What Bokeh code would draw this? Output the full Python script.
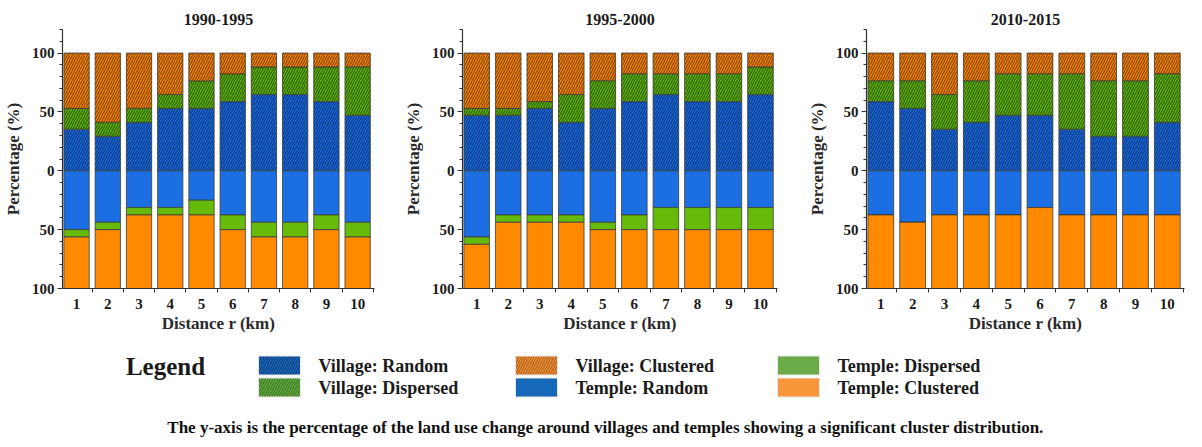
from bokeh.plotting import figure
from bokeh.layouts import column, row
from bokeh.models import ColumnDataSource, Range1d, FixedTicker, Title
from bokeh.embed import file_html
from bokeh.resources import INLINE
from bokeh.core.properties import value

# ---------------- data ----------------
distances = [1, 2, 3, 4, 5, 6, 7, 8, 9, 10]
tick_labels = ["1", "2", "3", "4", "5", "6", "7", "8", "9", "10"]
panel_titles = ["1990-1995", "1995-2000", "2010-2015"]

# Village (upper half, %)
village_random_1990 = [35.3, 29.4, 41.2, 52.9, 52.9, 58.8, 64.7, 64.7, 58.8, 47.1]
village_dispersed_1990 = [17.6, 11.8, 11.8, 11.8, 23.5, 23.5, 23.5, 23.5, 29.4, 41.2]
village_clustered_1990 = [47.1, 58.8, 47.0, 35.3, 23.6, 17.7, 11.8, 11.8, 11.8, 11.7]
# Temple (lower half, %)
temple_random_1990 = [50, 43.75, 31.25, 31.25, 25, 37.5, 43.75, 43.75, 37.5, 43.75]
temple_dispersed_1990 = [6.25, 6.25, 6.25, 6.25, 12.5, 12.5, 12.5, 12.5, 12.5, 12.5]
temple_clustered_1990 = [43.75, 50, 62.5, 62.5, 62.5, 50, 43.75, 43.75, 50, 43.75]

village_random_1995 = [47.1, 47.1, 52.9, 41.2, 52.9, 58.8, 64.7, 58.8, 58.8, 64.7]
village_dispersed_1995 = [5.8, 5.8, 5.9, 23.5, 23.6, 23.6, 17.7, 23.6, 23.6, 23.5]
village_clustered_1995 = [47.1, 47.1, 41.2, 35.3, 23.5, 17.6, 17.6, 17.6, 17.6, 11.8]
temple_random_1995 = [56.25, 37.5, 37.5, 37.5, 43.75, 37.5, 31.25, 31.25, 31.25, 31.25]
temple_dispersed_1995 = [6.25, 6.25, 6.25, 6.25, 6.25, 12.5, 18.75, 18.75, 18.75, 18.75]
temple_clustered_1995 = [37.5, 56.25, 56.25, 56.25, 50, 50, 50, 50, 50, 50]

village_random_2010 = [58.8, 52.9, 35.3, 41.2, 47.1, 47.1, 35.3, 29.4, 29.4, 41.2]
village_dispersed_2010 = [17.7, 23.6, 29.4, 35.3, 35.3, 35.3, 47.1, 47.1, 47.1, 41.2]
village_clustered_2010 = [23.5, 23.5, 35.3, 23.5, 17.6, 17.6, 17.6, 23.5, 23.5, 17.6]
temple_random_2010 = [37.5, 43.75, 37.5, 37.5, 37.5, 31.25, 37.5, 37.5, 37.5, 37.5]
temple_dispersed_2010 = [0, 0, 0, 0, 0, 0, 0, 0, 0, 0]
temple_clustered_2010 = [62.5, 56.25, 62.5, 62.5, 62.5, 68.75, 62.5, 62.5, 62.5, 62.5]

legend_labels = ["Village: Random", "Village: Dispersed", "Village: Clustered",
                 "Temple: Random", "Temple: Dispersed", "Temple: Clustered"]
caption = ("The y-axis is the percentage of the land use change around villages "
           "and temples showing a significant cluster distribution.")

panels = [
    (village_random_1990, village_dispersed_1990, village_clustered_1990,
     temple_random_1990, temple_dispersed_1990, temple_clustered_1990),
    (village_random_1995, village_dispersed_1995, village_clustered_1995,
     temple_random_1995, temple_dispersed_1995, temple_clustered_1995),
    (village_random_2010, village_dispersed_2010, village_clustered_2010,
     temple_random_2010, temple_dispersed_2010, temple_clustered_2010),
]

# ---------------- style ----------------
FONT = "Liberation Serif"
BLUE, GREEN, ORANGE = "#1b6fe3", "#66bb0a", "#ff8a00"
HATCH = {BLUE: "#0b3a88", GREEN: "#2f6400", ORANGE: "#8f4800"}
EDGE = "#3c3c3c"

# left border, plot width, right border for each panel
geom = [(51, 323, 26), (60, 317, 23), (66, 318, 2)]
TOP = 29
FIG_H = TOP + 260 + 46

figs = []
for (vr, vd, vc, tr, td, tc), title, (bl, pw, br) in zip(panels, panel_titles, geom):
    p = figure(width=bl + pw + br, height=FIG_H, output_backend="svg",
               toolbar_location=None, x_range=Range1d(0.55, 10.54),
               y_range=Range1d(-100, 120), min_border_left=bl,
               min_border_right=br, min_border_top=TOP, min_border_bottom=46)
    p.title = Title(text=title, align="center", text_font=FONT,
                    text_font_size="16px", text_font_style="bold",
                    text_color="#1a1a1a", offset=0, standoff=9)
    src = ColumnDataSource(dict(x=distances, vr=vr, vd=vd, vc=vc,
                                tr=[-v for v in tr], td=[-v for v in td],
                                tc=[-v for v in tc]))
    p.vbar_stack(["vr", "vd", "vc"], x="x", width=0.81, source=src,
                 fill_color=[BLUE, GREEN, ORANGE], line_color=EDGE, line_width=0.8,
                 hatch_pattern="/", hatch_color=[HATCH[BLUE], HATCH[GREEN], HATCH[ORANGE]],
                 hatch_scale=5, hatch_weight=1.3)
    p.vbar_stack(["tr", "td", "tc"], x="x", width=0.81, source=src,
                 fill_color=[BLUE, GREEN, ORANGE], line_color=EDGE, line_width=0.8)
    p.xgrid.visible = False
    p.ygrid.visible = False
    p.outline_line_color = None
    p.xaxis.ticker = FixedTicker(ticks=distances,
                                 minor_ticks=[d + 0.5 for d in distances])
    p.xaxis.major_label_overrides = {d: s for d, s in zip(distances, tick_labels)}
    p.xaxis.minor_tick_out = 4
    p.xaxis.minor_tick_in = 0
    p.yaxis.ticker = FixedTicker(ticks=[-100, -50, 0, 50, 100],
                                 minor_ticks=list(range(-100, 121, 10)))
    p.yaxis.major_label_overrides = {-100: "100", -50: "50", 0: "0", 50: "50", 100: "100"}
    p.yaxis.major_tick_out = 5
    p.yaxis.major_tick_in = 0
    p.yaxis.minor_tick_out = 3
    p.yaxis.minor_tick_in = 0
    p.xaxis.axis_label = "Distance r (km)"
    p.yaxis.axis_label = "Percentage (%)"
    for ax in (p.xaxis, p.yaxis):
        ax.axis_line_color = "#333333"
        ax.axis_line_width = 1.2
        ax.minor_tick_line_color = "#333333"
        ax.major_label_text_font = FONT
        ax.major_label_text_font_size = "15px"
        ax.major_label_text_font_style = "bold"
        ax.major_label_text_color = "#1a1a1a"
        ax.axis_label_text_font = FONT
        ax.axis_label_text_font_size = "17px"
        ax.axis_label_text_font_style = "bold"
        ax.axis_label_text_color = "#2a2a2a"
    p.xaxis.major_tick_line_color = None
    p.yaxis.major_tick_line_color = "#333333"
    p.xaxis.major_label_standoff = 4
    p.xaxis.axis_label_standoff = 2
    p.yaxis.major_label_standoff = 3
    p.yaxis.axis_label_standoff = 6
    figs.append(p)

# ---------------- legend + caption ----------------
LEG_W = 1186
leg = figure(width=LEG_W, height=104, output_backend="svg", toolbar_location=None,
             x_range=Range1d(0, LEG_W), y_range=Range1d(104, 0),
             x_axis_type=None, y_axis_type=None,
             min_border=0, outline_line_color=None)
leg.grid.visible = False

DX = 8  # horizontal offset of legend items
sw_fill = ["#1d6cbf", "#69aa45", "#f2913a", "#1668b8", "#6aab47", "#f7963a"]
sw_hatch = ["#0c3e80", "#3a7a22", "#b0601a", None, None, None]
sw_x = [271, 271, 528, 528, 790, 790]
sw_y = [30, 52, 30, 52, 30, 52]
for i in range(6):
    kw = {}
    if sw_hatch[i]:
        kw = dict(hatch_pattern="/", hatch_color=sw_hatch[i], hatch_scale=5, hatch_weight=1.2)
    leg.rect(x=[sw_x[i] + DX], y=[sw_y[i]], width=42, height=19, fill_color=sw_fill[i],
             line_color="#e8e8e8", line_width=1, **kw)
    leg.text(x=[sw_x[i] + DX + 39], y=[sw_y[i]], text=[legend_labels[i]],
             text_font=value(FONT), text_font_size="18px", text_font_style="bold",
             text_color="#1a1a1a", text_baseline="middle", text_align="left")

leg.text(x=[157 + DX], y=[31], text=["Legend"], text_font=value(FONT),
         text_font_size="25px", text_font_style="bold", text_color="#1a1a1a",
         text_baseline="middle", text_align="center")
leg.text(x=[597 + DX], y=[92], text=[caption], text_font=value(FONT),
         text_font_size="17px", text_font_style="bold", text_color="#111111",
         text_baseline="middle", text_align="center")

layout = column(row(*figs, spacing=0), leg, spacing=0)
open("out.html", "w").write(file_html(layout, INLINE))
